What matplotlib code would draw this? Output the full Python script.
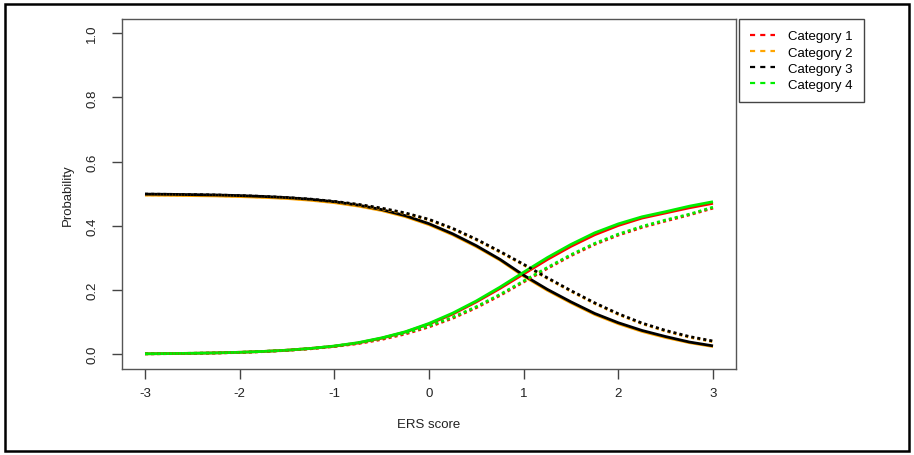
import matplotlib
matplotlib.use("Agg")
import matplotlib.pyplot as plt
from matplotlib.lines import Line2D
from matplotlib.patches import Rectangle

plt.rcParams['font.family'] = ['Liberation Sans', 'DejaVu Sans']

# ERS score grid
ers = [-3.0, -2.75, -2.5, -2.25, -2.0, -1.75, -1.5, -1.25, -1.0, -0.75, -0.5, -0.25,
       0.0, 0.25, 0.5, 0.75, 1.0, 1.25, 1.5, 1.75, 2.0, 2.25, 2.5, 2.75, 3.0]

# solid curves
cat1_solid = [0.0014, 0.002, 0.0029, 0.0042, 0.006, 0.0087, 0.0125, 0.018, 0.025, 0.035, 0.050, 0.069,
              0.094, 0.125, 0.163, 0.205, 0.250, 0.295, 0.336, 0.372, 0.401, 0.424, 0.440, 0.456, 0.470]
cat2_solid = [0.4956, 0.495, 0.494, 0.493, 0.491, 0.4885, 0.485, 0.4795, 0.472, 0.4615, 0.4475, 0.4285,
              0.4035, 0.372, 0.335, 0.293, 0.243, 0.199, 0.160, 0.124, 0.095, 0.071, 0.052, 0.036, 0.024]
cat3_solid = [0.4986, 0.498, 0.497, 0.4959, 0.494, 0.4913, 0.4877, 0.4824, 0.475, 0.4645, 0.4505, 0.4315,
              0.4065, 0.375, 0.338, 0.2955, 0.246, 0.202, 0.163, 0.127, 0.098, 0.074, 0.055, 0.038, 0.026]
cat4_solid = [0.0014, 0.0021, 0.0029, 0.0042, 0.006, 0.0087, 0.0125, 0.018, 0.0255, 0.036, 0.051, 0.070,
              0.096, 0.128, 0.166, 0.209, 0.2555, 0.301, 0.342, 0.378, 0.406, 0.428, 0.444, 0.461, 0.475]

# dotted curves
cat1_dot = [0.0012, 0.0018, 0.0026, 0.0038, 0.0055, 0.0082, 0.012, 0.017, 0.024, 0.033, 0.046, 0.063,
            0.085, 0.112, 0.145, 0.183, 0.225, 0.267, 0.307, 0.342, 0.371, 0.395, 0.415, 0.434, 0.455]
cat2_dot = [0.4966, 0.496, 0.495, 0.494, 0.492, 0.4895, 0.486, 0.481, 0.474, 0.465, 0.453, 0.438,
            0.418, 0.390, 0.356, 0.318, 0.278, 0.236, 0.196, 0.158, 0.124, 0.095, 0.072, 0.053, 0.039]
cat3_dot = [0.4986, 0.498, 0.497, 0.496, 0.494, 0.4915, 0.488, 0.483, 0.476, 0.467, 0.455, 0.440,
            0.420, 0.392, 0.358, 0.320, 0.280, 0.238, 0.198, 0.160, 0.126, 0.097, 0.074, 0.055, 0.041]
cat4_dot = [0.0014, 0.002, 0.003, 0.004, 0.006, 0.0087, 0.0125, 0.018, 0.025, 0.035, 0.049, 0.066,
            0.088, 0.115, 0.148, 0.186, 0.228, 0.270, 0.310, 0.345, 0.374, 0.398, 0.418, 0.436, 0.458]

categories = ["Category 1", "Category 2", "Category 3", "Category 4"]
colors = ["#ff0000", "#ffa500", "#000000", "#00ee00"]
xticks = [-3, -2, -1, 0, 1, 2, 3]
yticks = [0.0, 0.2, 0.4, 0.6, 0.8, 1.0]

W, H = 914, 456
fig = plt.figure(figsize=(W / 100, H / 100), dpi=100)
ax = fig.add_axes([122 / W, 1 - 370 / H, (736 - 122) / W, (370 - 20) / H])

solids = [cat1_solid, cat2_solid, cat3_solid, cat4_solid]
dots = [cat1_dot, cat2_dot, cat3_dot, cat4_dot]
for s, c in zip(solids, colors):
    ax.plot(ers, s, color=c, lw=2.0, solid_capstyle='butt')
for d, c in zip(dots, colors):
    ax.plot(ers, d, color=c, lw=2.0, linestyle=(0, (1.1, 1.1)))

ax.set_xlim(-3.243, 3.243)
ax.set_ylim(-0.046, 1.044)
ax.set_xticks(xticks)
ax.set_xticklabels([str(t) for t in xticks])
ax.set_yticks(yticks)
ax.set_yticklabels([f"{t:.1f}" for t in yticks], rotation=90, va='center')
ax.tick_params(axis='both', direction='out', length=7, width=1, color='#444444',
               labelsize=9.5, labelcolor='#222222')
ax.tick_params(axis='x', pad=6)
ax.tick_params(axis='y', pad=10)
for sp in ax.spines.values():
    sp.set_color('#555555')
    sp.set_linewidth(1)

fig.text(429 / W, 1 - 425 / H, "ERS score", ha='center', va='center', fontsize=9.5, color='#222222')
fig.text(68 / W, 1 - 195 / H, "Probability", ha='center', va='center', rotation=90,
         fontsize=9.5, color='#222222')

handles = [Line2D([0], [0], color=c, lw=1.6, linestyle=(0, (2.3, 2.3))) for c in colors]
leg = fig.legend(handles, categories, loc='upper left',
                 bbox_to_anchor=(739 / W, 1 - 20 / H), fontsize=9.5,
                 frameon=True, fancybox=False, framealpha=1, edgecolor='#444444',
                 handlelength=1.9, handletextpad=1.0, labelspacing=0.3,
                 borderpad=0.85, borderaxespad=0)
leg.get_frame().set_linewidth(1)

# outer border around the whole image
fig.patches.append(Rectangle((5 / W, 4 / H), (909 - 5) / W, (451 - 4) / H,
                             transform=fig.transFigure, fill=False,
                             edgecolor='black', linewidth=1.8))

fig.savefig("out.png", dpi=100)
